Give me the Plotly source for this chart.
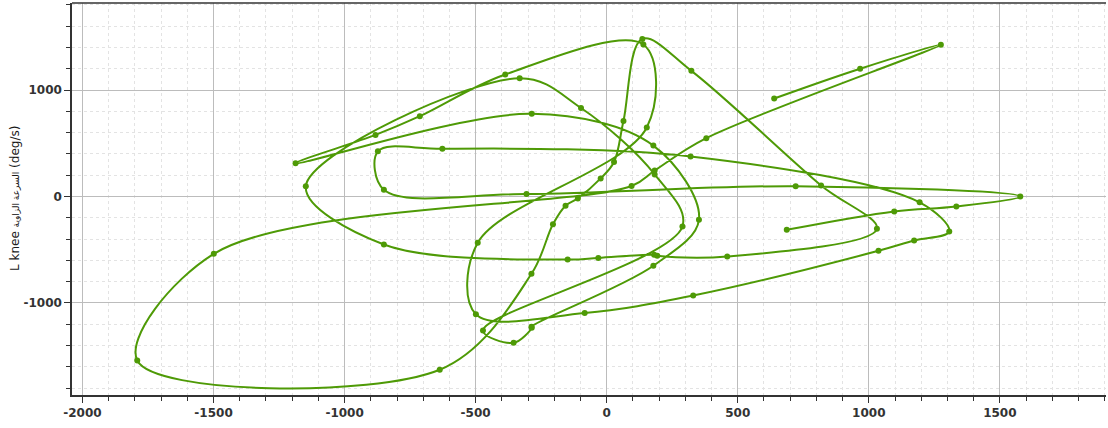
import plotly.graph_objects as go

# Trajectory samples in time order
x_vals = [687, 1097, 1334, 1578, 721, -306, -850, -873, -627, 320, 1194, 1307, 1173, 1037, 330, -84,
          -499, -492, 153, 140, -387, -713, -882, -1187, -286, 178, 352, 178, -287, -286,
          -355, -472, 289, 183, -98, -332, -1148, -850, -149, -32, 181, 193, 460, 1031, 818, 323, 136, 64,
          28, -23, -110, -157, -205, -287, -637, -1791, -1499, 95, 183, 380, 1275, 967, 639]
y_vals = [-313, -140, -94, 0, 97, 24, 63, 424, 448, 376, -55, -329, -413, -510, -930, -1094,
          -1106, -435, 648, 1427, 1146, 754, 578, 312, 776, 478, -219, -650, -1222, -1233,
          -1374, -1258, -282, 207, 831, 1111, 96, -451, -592, -577, -548, -557, -563, -304, 104, 1180, 1480, 709,
          324, 170, -18, -87, -260, -726, -1627, -1540, -538, 99, 244, 548, 1425, 1200, 920]

x_ticks = [-2000, -1500, -1000, -500, 0, 500, 1000, 1500]
y_ticks = [-1000, 0, 1000]
y_title = "L knee <span style='font-size:9px'>السرعة الزاوية</span> (deg/s)"

GREEN = "#4e9a06"

fig = go.Figure()
fig.add_trace(go.Scatter(
    x=x_vals, y=y_vals, mode="lines+markers",
    line=dict(color=GREEN, width=2, shape="spline", smoothing=1.0),
    marker=dict(color=GREEN, size=6),
    showlegend=False, hoverinfo="skip",
))

axis_font = dict(family="DejaVu Sans", size=12, color="#333333", weight="bold")
fig.update_xaxes(
    range=[-2040, 1905], tickvals=x_ticks, ticktext=[str(v) for v in x_ticks],
    showgrid=True, gridcolor="#bcbcbc", gridwidth=1,
    minor=dict(dtick=100, showgrid=True, gridcolor="#e3e3e3", griddash="dot", ticks="outside", ticklen=4, tickcolor="#333"),
    ticks="outside", ticklen=6, tickcolor="#333", showline=True, linecolor="#333", linewidth=1.5,
    zeroline=False, tickfont=axis_font, automargin=False,
)
fig.update_yaxes(
    range=[-1864, 1817], tickvals=y_ticks, ticktext=[str(v) for v in y_ticks],
    showgrid=True, gridcolor="#bcbcbc", gridwidth=1,
    minor=dict(dtick=200, showgrid=True, gridcolor="#e3e3e3", griddash="dot", ticks="outside", ticklen=4, tickcolor="#333"),
    ticks="outside", ticklen=6, tickcolor="#333", showline=True, linecolor="#333", linewidth=1.5,
    zeroline=False, tickfont=axis_font, automargin=False,
)
fig.add_annotation(text=y_title, xref="paper", yref="paper", x=-0.0551, y=0.5,
                   xanchor="center", yanchor="middle", textangle=-90, showarrow=False,
                   font=dict(family="DejaVu Sans", size=12, color="#1a1a1a"))
fig.add_shape(type="line", xref="paper", yref="paper", x0=0, x1=1, y0=1, y1=1,
              line=dict(color="#333", width=1.5))
fig.update_layout(
    width=1108, height=428, margin=dict(l=72, r=2, t=3, b=33),
    plot_bgcolor="white", paper_bgcolor="white",
)
fig.write_html("out.html", config={"displayModeBar": False},
               post_script="document.body.style.margin='0';")
